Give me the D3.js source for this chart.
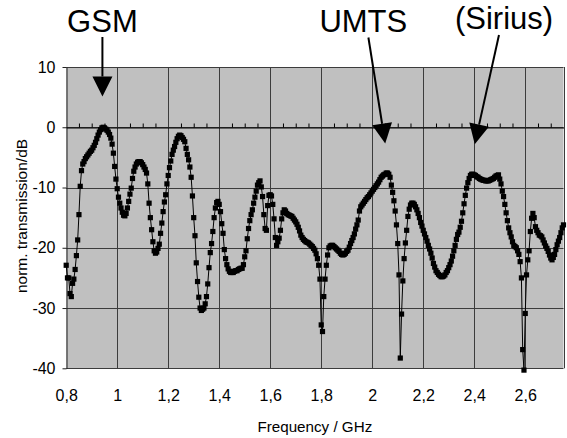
<!DOCTYPE html>
<html>
<head>
<meta charset="utf-8">
<script src="https://cdn.jsdelivr.net/npm/d3@7"></script>
<style>
  html, body { margin: 0; padding: 0; background: #fff; }
  svg { display: block; }
  text { font-family: "Liberation Sans", Arial, sans-serif; fill: #000; }
</style>
</head>
<body>
<svg id="chart" width="567" height="438"></svg>
<script>
// Frequency sweep: uniform steps from freqStart
const freqStart = 0.8;
const freqStep = 0.005;

// Normalised transmission in dB, one value per sweep point (0.80 ... 2.75 GHz)
const transmission = [
  -22.9,-25.0,-25.0,-27.6,-28.1,-25.9,-25.2,-23.6,-21.3,-18.7,
  -14.5,-9.8,-7.2,-6.1,-5.7,-5.2,-4.9,-4.6,-4.3,-4.0,
  -3.8,-3.4,-3.0,-2.5,-1.9,-1.3,-0.8,-0.4,-0.1,0.0,
  -0.1,-0.3,-0.5,-0.8,-1.2,-1.8,-2.8,-4.3,-6.5,-8.6,
  -10.2,-11.6,-12.6,-13.4,-14.1,-14.6,-14.7,-14.3,-13.4,-12.3,
  -11.1,-10.1,-8.5,-7.3,-6.6,-6.1,-5.8,-5.7,-5.7,-5.9,
  -6.2,-6.6,-7.0,-7.6,-9.4,-12.6,-15.0,-17.0,-19.0,-20.5,
  -20.9,-20.7,-20.1,-19.4,-17.6,-15.9,-14.0,-12.4,-11.2,-9.4,
  -8.0,-6.7,-5.6,-4.5,-3.8,-3.2,-2.5,-1.9,-1.5,-1.3,
  -1.4,-1.7,-2.0,-2.4,-3.5,-4.5,-5.4,-6.6,-8.3,-11.4,
  -15.0,-18.0,-22.5,-25.6,-28.2,-30.0,-30.4,-30.2,-30.0,-29.3,
  -28.1,-26.0,-23.3,-20.8,-19.3,-17.3,-15.0,-13.4,-12.5,-12.3,
  -12.8,-14.0,-16.0,-17.6,-20.3,-21.8,-22.8,-23.5,-23.9,-24.1,
  -24.1,-24.1,-23.9,-23.8,-23.8,-23.6,-23.5,-23.4,-23.4,-22.8,
  -21.5,-20.5,-18.5,-16.8,-15.5,-14.5,-13.7,-12.6,-11.6,-10.6,
  -9.6,-9.2,-8.9,-9.9,-11.5,-14.5,-16.8,-17.1,-13.0,-11.3,
  -11.2,-11.4,-12.8,-15.2,-18.3,-19.6,-19.0,-18.4,-17.1,-15.2,
  -14.2,-13.7,-13.9,-14.3,-14.5,-14.6,-14.7,-14.8,-15.1,-15.4,
  -15.7,-16.1,-16.6,-17.2,-17.9,-18.3,-18.6,-18.8,-19.0,-19.1,
  -19.2,-19.4,-19.6,-19.8,-20.1,-20.4,-21.0,-21.8,-22.9,-25.2,
  -32.8,-33.9,-28.1,-25.2,-22.9,-21.2,-20.0,-19.7,-19.6,-19.6,
  -19.8,-20.0,-20.2,-20.4,-20.6,-20.9,-21.1,-21.2,-21.1,-20.9,
  -20.6,-20.4,-19.9,-19.3,-18.8,-18.3,-17.7,-16.9,-16.2,-15.4,
  -13.9,-13.2,-12.9,-12.6,-12.3,-12.0,-11.7,-11.5,-11.2,-10.9,
  -10.6,-10.3,-10.0,-9.7,-9.4,-9.1,-8.7,-8.3,-8.1,-7.9,
  -7.8,-7.6,-7.6,-7.8,-8.3,-9.6,-10.8,-12.2,-13.9,-16.2,
  -19.3,-24.5,-38.3,-31.0,-25.5,-21.8,-19.2,-17.1,-14.8,-13.6,
  -12.9,-12.6,-12.6,-12.8,-13.2,-13.7,-14.3,-15.0,-15.8,-16.4,
  -17.1,-17.7,-18.3,-18.9,-19.6,-20.2,-20.9,-21.7,-22.6,-23.2,
  -23.8,-24.1,-24.4,-24.6,-24.8,-24.8,-24.7,-24.5,-24.1,-23.8,
  -23.3,-22.8,-22.2,-21.4,-20.5,-19.6,-18.6,-17.8,-17.4,-16.6,
  -15.6,-14.2,-12.7,-11.3,-10.1,-9.2,-8.5,-8.0,-7.8,-7.8,
  -7.9,-8.0,-8.2,-8.3,-8.5,-8.6,-8.7,-8.8,-8.8,-8.9,
  -8.9,-8.9,-8.8,-8.7,-8.6,-8.5,-8.3,-8.1,-8.0,-7.9,
  -8.6,-9.4,-10.6,-11.5,-12.8,-14.2,-15.5,-16.7,-17.5,-18.2,
  -19.0,-19.6,-19.8,-20.0,-20.5,-21.1,-22.3,-25.0,-36.9,-40.3,
  -30.9,-24.5,-22.0,-20.5,-17.3,-15.1,-14.3,-15.0,-16.5,-17.1,
  -17.5,-17.9,-18.0,-18.2,-18.7,-19.2,-19.7,-20.1,-20.6,-21.2,
  -21.7,-22.0,-21.6,-21.1,-20.3,-19.5,-18.9,-18.3,-17.5,-16.7,-16.2
];

// Axis ticks and their printed labels (decimal comma)
const xTicks = [0.8, 1.0, 1.2, 1.4, 1.6, 1.8, 2.0, 2.2, 2.4, 2.6];
const xTickLabels = ["0,8", "1", "1,2", "1,4", "1,6", "1,8", "2", "2,2", "2,4", "2,6"];
const xMinorTicks = [0.85, 0.9, 0.95, 1.05, 1.1, 1.15, 1.25, 1.3, 1.35, 1.45, 1.5, 1.55,
                     1.65, 1.7, 1.75, 1.85, 1.9, 1.95, 2.05, 2.1, 2.15, 2.25, 2.3, 2.35,
                     2.45, 2.5, 2.55, 2.65, 2.7];
const yTicks = [10, 0, -10, -20, -30, -40];
const yTickLabels = ["10", "0", "-10", "-20", "-30", "-40"];

// Band annotations: label, label position (GHz) and arrow from tail to tip (GHz, dB)
const bandLabels = ["GSM", "UMTS", "(Sirius)"];
const bandLabelFreq = [0.942, 1.965, 2.517];
const bandTailFreq = [0.942, 1.985, 2.497];
const bandTipFreq = [0.942, 2.051, 2.402];
const bandTipDb = [5.1, -2.7, -2.8];

const data = transmission.map((v, i) => ({ f: freqStart + i * freqStep, v }));

const svg = d3.select("#chart");
const plot = { left: 66.2, right: 563.5, top: 67, bottom: 368.3 };

const x = d3.scaleLinear().domain([0.8, 2.75]).range([plot.left, plot.right]);
const y = d3.scaleLinear().domain([-40, 10]).range([plot.bottom, plot.top]);

// Plot area
svg.append("rect")
  .attr("x", plot.left).attr("y", plot.top)
  .attr("width", plot.right - plot.left).attr("height", plot.bottom - plot.top)
  .attr("fill", "#c0c0c0");

// Grid
const grid = svg.append("g").attr("stroke", "#3c3c3c").attr("stroke-width", 1);
grid.selectAll("line.v")
  .data(xTicks.slice(1).concat([2.75]))
  .join("line")
  .attr("x1", d => Math.round(x(d)) + 0.5).attr("x2", d => Math.round(x(d)) + 0.5)
  .attr("y1", plot.top).attr("y2", plot.bottom);
grid.selectAll("line.h")
  .data(yTicks)
  .join("line")
  .attr("x1", plot.left).attr("x2", plot.right)
  .attr("y1", d => Math.round(y(d)) + 0.5).attr("y2", d => Math.round(y(d)) + 0.5);

// Y axis with outward ticks
const yAxis = d3.axisLeft(y)
  .tickValues(yTicks)
  .tickSize(4)
  .tickSizeOuter(0)
  .tickPadding(7)
  .tickFormat((d, i) => yTickLabels[i]);
svg.append("g")
  .attr("transform", `translate(${Math.round(plot.left) + 0.5},0)`)
  .call(yAxis)
  .call(g => g.select(".domain").attr("stroke", "#222"))
  .call(g => g.selectAll(".tick line").attr("stroke", "#222"))
  .call(g => g.selectAll("text").attr("font-size", 16).attr("font-family", "Liberation Sans, Arial, sans-serif").attr("fill", "#000"));

// X axis crossing at 0 dB with minor ticks pointing up
svg.append("g")
  .attr("transform", `translate(0,${Math.round(y(0)) + 0.5})`)
  .call(d3.axisTop(x).tickValues(xMinorTicks).tickSize(4).tickSizeOuter(0).tickFormat(""))
  .call(g => g.select(".domain").attr("stroke", "#000"))
  .call(g => g.selectAll(".tick line").attr("stroke", "#000"));

// X tick labels below the plot
svg.append("g")
  .attr("transform", `translate(0,${plot.bottom})`)
  .call(d3.axisBottom(x).tickValues(xTicks).tickSize(0).tickPadding(21)
        .tickFormat((d, i) => xTickLabels[i]))
  .call(g => g.select(".domain").remove())
  .call(g => g.selectAll("text").attr("font-size", 16).attr("font-family", "Liberation Sans, Arial, sans-serif").attr("fill", "#000"));

// Measured curve
const line = d3.line().x(d => x(d.f)).y(d => y(d.v));
svg.append("path")
  .datum(data)
  .attr("d", line)
  .attr("fill", "none")
  .attr("stroke", "#000")
  .attr("stroke-width", 1);

const ms = 5.2;
svg.append("g").selectAll("rect")
  .data(data)
  .join("rect")
  .attr("x", d => x(d.f) - ms / 2)
  .attr("y", d => y(d.v) - ms / 2)
  .attr("width", ms).attr("height", ms)
  .attr("fill", "#000");

// Axis titles
svg.append("text")
  .attr("x", (plot.left + plot.right) / 2).attr("y", 432)
  .attr("text-anchor", "middle")
  .attr("font-size", 15.2)
  .text("Frequency / GHz");

svg.append("text")
  .attr("transform", "translate(27,216) rotate(-90)")
  .attr("text-anchor", "middle")
  .attr("font-size", 15.5)
  .text("norm. transmission/dB");

// Band annotations with arrows
const labelBaseline = [31.5, 31.5, 29];
const tailY = [37, 37.5, 35];
const headLen = 20, headHalf = 10;
const ann = svg.append("g");
bandLabels.forEach((lab, i) => {
  ann.append("text")
    .attr("x", x(bandLabelFreq[i])).attr("y", labelBaseline[i])
    .attr("text-anchor", "middle")
    .attr("font-size", 31)
    .text(lab);
  const tx = x(bandTailFreq[i]), ty = tailY[i];
  const px = x(bandTipFreq[i]), py = y(bandTipDb[i]);
  const len = Math.hypot(px - tx, py - ty);
  const ux = (px - tx) / len, uy = (py - ty) / len;
  const bx = px - ux * headLen, by = py - uy * headLen;
  ann.append("line")
    .attr("x1", tx).attr("y1", ty).attr("x2", bx).attr("y2", by)
    .attr("stroke", "#000").attr("stroke-width", 2);
  ann.append("path")
    .attr("d", `M${px},${py}L${bx - uy * headHalf},${by + ux * headHalf}L${bx + uy * headHalf},${by - ux * headHalf}Z`)
    .attr("fill", "#000");
});
</script>
</body>
</html>
